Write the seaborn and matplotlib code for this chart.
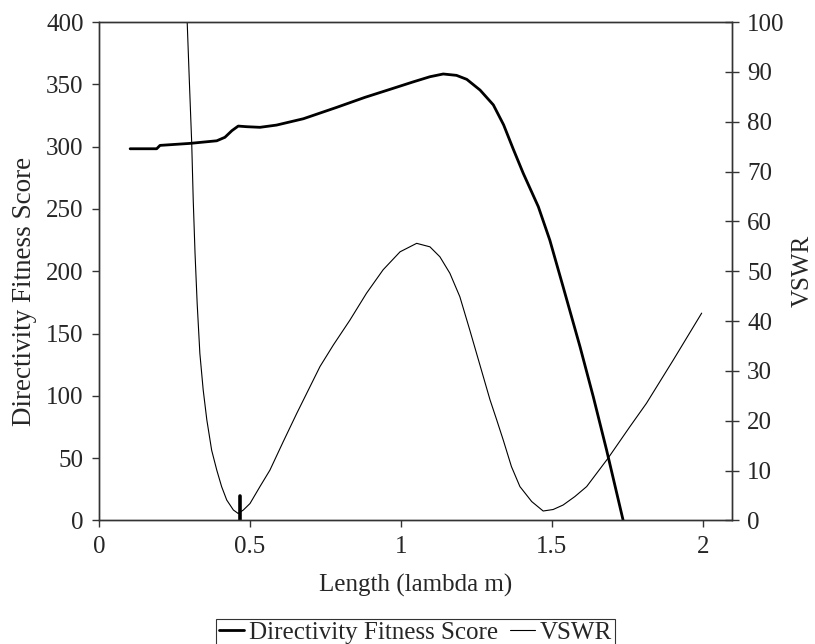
import numpy as np
import pandas as pd
import matplotlib
matplotlib.use("Agg")
import matplotlib.pyplot as plt
import seaborn as sns

# Dados
comprimento_dfs = [0.103, 0.191, 0.202, 0.301, 0.39, 0.417, 0.44, 0.461, 0.489, 0.533,
                   0.588, 0.677, 0.787, 0.88, 0.964, 1.041, 1.096, 1.14, 1.184, 1.218,
                   1.262, 1.306, 1.34, 1.372, 1.405, 1.455, 1.493, 1.537, 1.593, 1.637,
                   1.681, 1.736]
dfs = [298.3, 298.3, 301.0, 302.6, 304.7, 307.5, 312.8, 316.5, 316.0, 315.5,
       317.3, 322.4, 331.5, 339.5, 346.0, 352.0, 356.1, 358.3, 357.2, 354.0,
       345.4, 333.5, 317.5, 298.0, 278.6, 251.8, 225.0, 187.6, 139.5, 99.3,
       56.6, 0.0]

comprimento_vswr = [0.292, 0.299, 0.307, 0.312, 0.318, 0.325, 0.334, 0.345, 0.357, 0.373,
                    0.39, 0.406, 0.423, 0.445, 0.461, 0.478, 0.5, 0.533, 0.566, 0.61,
                    0.655, 0.732, 0.776, 0.831, 0.886, 0.941, 0.997, 1.052, 1.096,
                    1.129, 1.162, 1.195, 1.228, 1.273, 1.295, 1.317, 1.339, 1.366,
                    1.394, 1.433, 1.471, 1.504, 1.537, 1.576, 1.615, 1.686, 1.758,
                    1.813, 1.902, 1.996]
vswr = [100.0, 88.4, 75.7, 64.3, 53.6, 43.6, 33.5, 26.2, 20.2, 14.1,
        10.1, 6.8, 4.1, 2.1, 1.4, 2.1, 3.4, 6.8, 10.1, 15.8,
        21.5, 30.9, 35.2, 40.2, 45.6, 50.3, 53.9, 55.6, 54.9,
        52.9, 49.6, 44.9, 38.2, 28.8, 24.2, 20.2, 16.1, 10.8,
        6.8, 3.8, 1.9, 2.2, 3.1, 4.8, 6.8, 12.5, 18.8,
        23.5, 32.2, 41.6]

# marcador vertical no mínimo
marca_x = [0.466, 0.466]
marca_y = [0, 20]

df_dfs = pd.DataFrame({'x': comprimento_dfs, 'y': dfs})
df_vswr = pd.DataFrame({'x': comprimento_vswr, 'y': vswr})
df_marca = pd.DataFrame({'x': marca_x, 'y': marca_y})

sns.set_style("ticks")
plt.rcParams['font.family'] = ['Liberation Serif', 'DejaVu Serif']
plt.rcParams['font.size'] = 18

fig, ax = plt.subplots(figsize=(8.15, 6.44), dpi=100)
fig.subplots_adjust(left=0.1215, right=0.898, bottom=0.1918, top=0.9658)
ax2 = ax.twinx()

sns.lineplot(data=df_dfs, x='x', y='y', ax=ax, color='black', linewidth=2.0,
             label='Directivity Fitness Score', legend=False, estimator=None)
sns.lineplot(data=df_marca, x='x', y='y', ax=ax, color='black', linewidth=2.6,
             legend=False, estimator=None, sort=False)
sns.lineplot(data=df_vswr, x='x', y='y', ax=ax2, color='black', linewidth=0.8,
             label='VSWR', legend=False, estimator=None)

ax.set_xlim(0, 2.096)
ax.set_ylim(0, 400)
ax2.set_ylim(0, 100)
ax.set_xticks([0, 0.5, 1, 1.5, 2])
ax.set_xticklabels(['0', '0.5', '1', '1.5', '2'])
ax.set_yticks(range(0, 401, 50))
ax2.set_yticks(range(0, 101, 10))

ax.set_xlabel('Length (lambda m)', va='center')
ax.xaxis.set_label_coords(0.5, -0.1294)
ax.set_ylabel('Directivity Fitness Score', va='center', fontsize=19.5)
ax.yaxis.set_label_coords(-0.1185, 0.46)
ax2.set_ylabel('VSWR', va='center')
ax2.yaxis.set_label_coords(1.112, 0.5)

for a in (ax, ax2):
    for s in a.spines.values():
        s.set_visible(True)
        s.set_color('#333333')
        s.set_linewidth(1.0)
ax.tick_params(axis='both', direction='out', length=5, width=1, color='#333333', pad=6)
ax2.tick_params(axis='y', direction='inout', length=10, width=1, color='#333333', pad=6)

h1, l1 = ax.get_legend_handles_labels()
h2, l2 = ax2.get_legend_handles_labels()
leg = fig.legend(h1[:1] + h2, l1[:1] + l2, loc='lower center', ncol=2,
                 bbox_to_anchor=(415.5 / 815, -0.004), frameon=True, fancybox=False,
                 edgecolor='black', borderpad=0.1, handlelength=1.0,
                 handletextpad=0.2, columnspacing=0.5, borderaxespad=0)
leg.get_frame().set_linewidth(0.8)

fig.savefig('out.png', dpi=100)
